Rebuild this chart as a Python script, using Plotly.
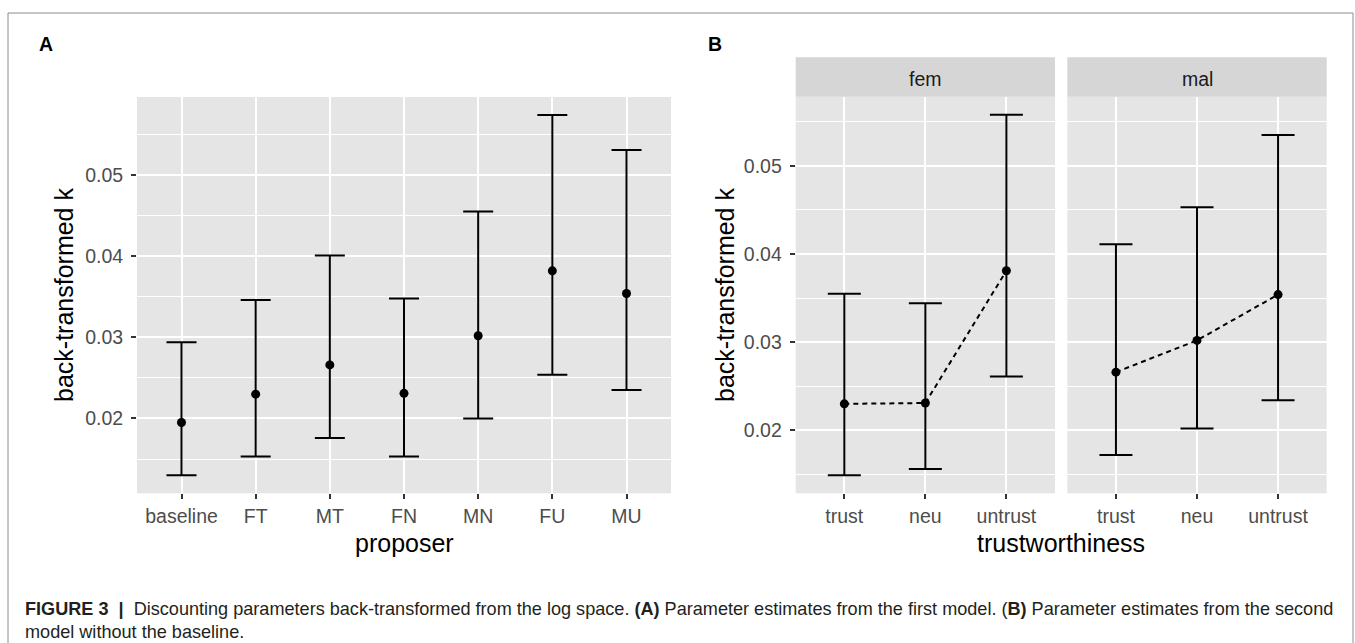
import plotly.graph_objects as go

# ---- data -------------------------------------------------------------
proposer = ["baseline", "FT", "MT", "FN", "MN", "FU", "MU"]
a_est = [0.0195, 0.0230, 0.0266, 0.0231, 0.0302, 0.0382, 0.0354]
a_lo = [0.0130, 0.0153, 0.0176, 0.0153, 0.0200, 0.0254, 0.0235]
a_hi = [0.0294, 0.0346, 0.0401, 0.0348, 0.0455, 0.0574, 0.0531]

trust_levels = ["trust", "neu", "untrust"]
fem_est = [0.0230, 0.0231, 0.0381]
fem_lo = [0.0149, 0.0156, 0.0261]
fem_hi = [0.0355, 0.0344, 0.0558]
mal_est = [0.0266, 0.0302, 0.0354]
mal_lo = [0.0172, 0.0202, 0.0234]
mal_hi = [0.0411, 0.0453, 0.0535]

y_ticks = [0.02, 0.03, 0.04, 0.05]

# ---- page geometry (pixels) -------------------------------------------
W, H = 1355, 643
FONT = "Liberation Sans, Arial, Helvetica, sans-serif"
PANEL_BG = "#E5E5E5"
STRIP_BG = "#D6D6D6"
TICK_COL = "#4D4D4D"


def px_x(x):
    return x / W


def px_y(y):
    return 1 - y / H


def padded(lo, hi, frac=0.05):
    span = max(hi) - min(lo)
    return [min(lo) - frac * span, max(hi) + frac * span]


a_rng = padded(a_lo, a_hi)
b_rng = padded(fem_lo + mal_lo, fem_hi + mal_hi)


def err(est, lo, hi, w):
    return dict(
        type="data",
        symmetric=False,
        array=[h - e for e, h in zip(est, hi)],
        arrayminus=[e - l for e, l in zip(est, lo)],
        color="black",
        thickness=2,
        width=w,
    )


fig = go.Figure()

# panel A
fig.add_trace(go.Scatter(
    x=proposer, y=a_est, mode="markers",
    marker=dict(color="black", size=9),
    error_y=err(a_est, a_lo, a_hi, 15),
    xaxis="x", yaxis="y", showlegend=False, hoverinfo="x+y",
))

# panel B, facet "fem"
fig.add_trace(go.Scatter(
    x=trust_levels, y=fem_est, mode="lines+markers",
    line=dict(color="black", width=2, dash="5px,4px"),
    marker=dict(color="black", size=9),
    error_y=err(fem_est, fem_lo, fem_hi, 16.5),
    xaxis="x2", yaxis="y2", showlegend=False, hoverinfo="x+y",
))

# panel B, facet "mal"
fig.add_trace(go.Scatter(
    x=trust_levels, y=mal_est, mode="lines+markers",
    line=dict(color="black", width=2, dash="5px,4px"),
    marker=dict(color="black", size=9),
    error_y=err(mal_est, mal_lo, mal_hi, 16.5),
    xaxis="x3", yaxis="y3", showlegend=False, hoverinfo="x+y",
))

tickfont = dict(family=FONT, size=19.5, color=TICK_COL)

xbase = dict(
    type="category", showgrid=True, gridcolor="white", gridwidth=2,
    ticks="outside", ticklen=5, tickwidth=2, tickcolor="#333333",
    tickfont=tickfont, showline=False, zeroline=False,
)
ybase = dict(
    showgrid=True, gridcolor="white", gridwidth=2,
    tickmode="array", tickvals=y_ticks, ticktext=[f"{v:.2f}" for v in y_ticks],
    ticks="outside", ticklen=5, tickwidth=2, tickcolor="#333333",
    tickfont=tickfont, showline=False, zeroline=False, ticklabelstandoff=4,
    minor=dict(tickmode="linear", tick0=0.005, dtick=0.01, showgrid=True,
               gridcolor="white", gridwidth=1, ticks=""),
)

A_TOP, A_BOT = 97, 493.3
B_TOP, B_BOT = 96.7, 493.3

fig.update_layout(
    width=W, height=H,
    margin=dict(l=0, r=0, t=0, b=0),
    paper_bgcolor="white", plot_bgcolor=PANEL_BG,
    font=dict(family=FONT),
    xaxis=dict(xbase, domain=[px_x(137), px_x(671)], range=[-0.6, 6.6], anchor="y"),
    yaxis=dict(ybase, domain=[px_y(A_BOT), px_y(A_TOP)], range=a_rng, anchor="x"),
    xaxis2=dict(xbase, domain=[px_x(795.7), px_x(1055)], range=[-0.6, 2.6], anchor="y2"),
    yaxis2=dict(ybase, domain=[px_y(B_BOT), px_y(B_TOP)], range=b_rng, anchor="x2"),
    xaxis3=dict(xbase, domain=[px_x(1067.3), px_x(1326.7)], range=[-0.6, 2.6], anchor="y3"),
    yaxis3=dict(ybase, domain=[px_y(B_BOT), px_y(B_TOP)], range=b_rng, anchor="x3",
                showticklabels=False, ticks=""),
)

shapes = []
annotations = []

# facet strips
for (x0, x1), label in [((795.7, 1055), "fem"), ((1067.3, 1326.7), "mal")]:
    shapes.append(dict(type="rect", xref="paper", yref="paper",
                       x0=px_x(x0), x1=px_x(x1), y0=px_y(96.7), y1=px_y(57.3),
                       fillcolor=STRIP_BG, line=dict(width=0), layer="below"))
    annotations.append(dict(xref="paper", yref="paper", x=px_x((x0 + x1) / 2), y=px_y(79.3),
                            text=label, showarrow=False, xanchor="center", yanchor="middle",
                            font=dict(family=FONT, size=19.5, color="#1A1A1A")))

# outer frame of the figure
frame = dict(color="#8C8C8C", width=1)
shapes += [
    dict(type="line", xref="paper", yref="paper", x0=px_x(8), x1=px_x(1353), y0=px_y(13), y1=px_y(13), line=frame),
    dict(type="line", xref="paper", yref="paper", x0=px_x(8), x1=px_x(8), y0=px_y(13), y1=-0.05, line=frame),
    dict(type="line", xref="paper", yref="paper", x0=px_x(1353), x1=px_x(1353), y0=px_y(13), y1=-0.05, line=frame),
]

# panel letters
for x, t in [(45.5, "A"), (715.5, "B")]:
    annotations.append(dict(xref="paper", yref="paper", x=px_x(x), y=px_y(43.5), text=f"<b>{t}</b>",
                            showarrow=False, xanchor="center", yanchor="middle",
                            font=dict(family=FONT, size=19.5, color="black")))

# axis titles
title_font = dict(family=FONT, size=25, color="black")
annotations += [
    dict(xref="paper", yref="paper", x=px_x(404), y=px_y(543), text="proposer",
         showarrow=False, xanchor="center", yanchor="middle", font=title_font),
    dict(xref="paper", yref="paper", x=px_x(1061), y=px_y(543), text="trustworthiness",
         showarrow=False, xanchor="center", yanchor="middle", font=title_font),
    dict(xref="paper", yref="paper", x=px_x(64), y=px_y(295), text="back-transformed k",
         showarrow=False, xanchor="center", yanchor="middle", textangle=-90, font=title_font),
    dict(xref="paper", yref="paper", x=px_x(725), y=px_y(295), text="back-transformed k",
         showarrow=False, xanchor="center", yanchor="middle", textangle=-90, font=title_font),
]

# caption
cap_font = dict(family=FONT, size=18.1, color="#231F20")
nb = "\u00a0"
line1 = (f"<b>FIGURE 3</b>{nb}{nb}<b>|</b>{nb}{nb}Discounting parameters back-transformed from the log space. "
         "<b>(A)</b> Parameter estimates from the first model. (<b>B)</b> Parameter estimates from the second")
annotations += [
    dict(xref="paper", yref="paper", x=px_x(23), y=px_y(609), text=line1,
         showarrow=False, xanchor="left", yanchor="middle", font=cap_font),
    dict(xref="paper", yref="paper", x=px_x(23), y=px_y(632), text="model without the baseline.",
         showarrow=False, xanchor="left", yanchor="middle", font=cap_font),
]

fig.update_layout(shapes=shapes, annotations=annotations)

fig.write_html("out.html")
